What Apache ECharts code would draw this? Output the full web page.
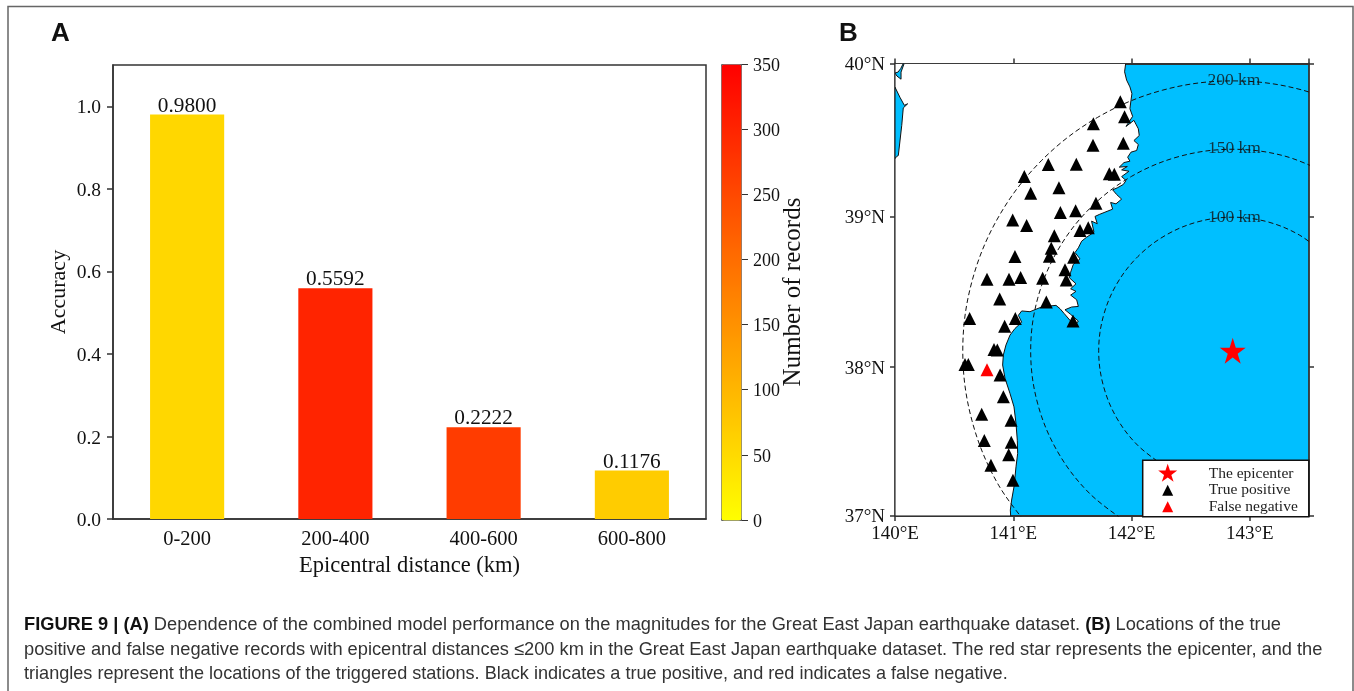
<!DOCTYPE html>
<html>
<head>
<meta charset="utf-8">
<style>html,body{margin:0;padding:0;background:#fff}#c{width:1354px;height:691px}</style>
<script src="https://cdn.jsdelivr.net/npm/echarts@6/dist/echarts.min.js"></script>
</head>
<body>
<div id="c"></div>
<script>
// ---------- Panel A data ----------
var distanceBins = ['0-200', '200-400', '400-600', '600-800'];
var accuracy = [0.9800, 0.5592, 0.2222, 0.1176];
var recordCounts = [55, 300, 268, 70];
var accuracyTicks = [0, 0.2, 0.4, 0.6, 0.8, 1.0];

// ---------- Panel B data (lon, lat) ----------
var epicenter = [[142.855, 38.11]];
var falseNegatives = [[140.778, 37.984]];
var truePositives = [
  [141.905,39.752],[141.941,39.654],[141.677,39.608],[141.674,39.468],[141.930,39.481],
  [141.296,39.341],[141.533,39.343],[141.812,39.280],[141.854,39.278],[141.093,39.262],
  [141.386,39.188],[141.147,39.153],[141.699,39.087],[141.398,39.026],[141.527,39.037],
  [140.995,38.976],[141.113,38.941],[141.634,38.925],[141.564,38.907],[141.347,38.872],
  [141.321,38.791],[141.305,38.738],[141.510,38.731],[141.014,38.736],[141.437,38.648],
  [141.448,38.581],[140.778,38.586],[140.964,38.586],[141.062,38.597],[141.248,38.592],
  [140.885,38.454],[141.279,38.434],[140.631,38.324],[141.017,38.324],[140.927,38.273],
  [141.505,38.308],[140.837,38.119],[140.865,38.115],[140.592,38.018],[140.620,38.018],
  [140.888,37.948],[140.916,37.803],[140.733,37.686],[140.981,37.646],[140.755,37.509],
  [140.983,37.498],[140.961,37.413],[140.811,37.343],[140.997,37.242]
];
var landOutline = [
  [140,40],[141.950,40],[141.941,39.946],[141.958,39.892],[141.986,39.848],[142.003,39.804],
  [141.995,39.761],[141.986,39.706],[142.009,39.656],[141.953,39.590],[142.020,39.630],
  [142.057,39.575],[142.065,39.531],[142.020,39.498],[142.057,39.472],[142.043,39.433],
  [141.995,39.422],[141.967,39.389],[141.986,39.363],[141.936,39.354],[141.896,39.324],
  [141.964,39.328],[141.916,39.306],[141.978,39.297],[141.916,39.262],[141.953,39.236],
  [141.930,39.210],[141.879,39.188],[141.840,39.175],[141.874,39.144],[141.916,39.114],
  [141.868,39.083],[141.823,39.092],[141.840,39.048],[141.775,39.028],[141.727,39.013],
  [141.691,39.000],[141.710,38.952],[141.662,38.969],[141.682,38.896],[141.620,38.863],
  [141.578,38.837],[141.550,38.793],[141.522,38.762],[141.564,38.720],[141.507,38.683],
  [141.485,38.632],[141.474,38.595],[141.530,38.555],[141.485,38.522],[141.530,38.505],
  [141.485,38.480],[141.536,38.449],[141.550,38.405],[141.493,38.401],[141.437,38.383],
  [141.485,38.352],[141.550,38.308],[141.522,38.278],[141.479,38.313],[141.431,38.357],
  [141.395,38.390],[141.361,38.412],[141.310,38.408],[141.226,38.397],[141.141,38.370],
  [141.071,38.375],[141.043,38.346],[141.071,38.300],[141.014,38.258],[140.972,38.214],
  [140.938,38.148],[140.916,38.082],[140.910,38.015],[140.930,37.926],[140.972,37.825],
  [141.006,37.735],[141.023,37.623],[141.034,37.511],[141.037,37.422],[141.023,37.332],
  [141.006,37.197],[140.986,37.108],[140.975,37.040],[140.978,37],[140,37]
];
var westPocket = [
  [140.070,40],[140.048,39.967],[140.025,39.944],[140,39.938],[140.017,39.918],
  [140.051,39.898],[140.051,39.944],[140.076,39.997]
];
var westBay = [
  [140,39.846],[140.042,39.780],[140.079,39.728],[140.107,39.738],[140.070,39.711],
  [140.057,39.597],[140.028,39.400],[140.013,39.393],[140,39.380]
];
var arc100 = [
  [143.656,38.736],[143.422,38.876],[143.148,38.965],[142.855,38.995],[142.562,38.965],
  [142.288,38.876],[142.054,38.736],[141.874,38.553],[141.761,38.339],[141.722,38.110],
  [141.761,37.878],[141.874,37.661],[142.054,37.475],[142.288,37.332]
];
var arc150 = [
  [143.709,39.264],[143.297,39.396],[142.855,39.441],[142.413,39.396],[142.001,39.264],
  [141.647,39.053],[141.376,38.777],[141.205,38.455],[141.147,38.110],[141.205,37.760],
  [141.376,37.432],[141.647,37.151],[142.001,36.935]
];
var arc200 = [
  [143.996,39.650],[143.446,39.827],[142.855,39.887],[142.264,39.827],[141.714,39.650],
  [141.241,39.369],[140.879,39.002],[140.651,38.572],[140.573,38.110],[140.651,37.642],
  [140.879,37.204],[141.241,36.826]
];
var rangeLabelNames = ['200 km', '150 km', '100 km'];
var rangeLabelLon = [142.865, 142.87, 142.87];
var rangeLabelLat = [39.89, 39.445, 38.995];
var lonTicks = [140, 141, 142, 143];
var latTicks = [37, 38, 39, 40];

var captionLines = [
  '{b|FIGURE 9 | (A)} Dependence of the combined model performance on the magnitudes for the Great East Japan earthquake dataset. {b|(B)} Locations of the true',
  'positive and false negative records with epicentral distances \u2264200 km in the Great East Japan earthquake dataset. The red star represents the epicenter, and the',
  'triangles represent the locations of the triggered stations. Black indicates a true positive, and red indicates a false negative.'
];

// ---------- helpers ----------
var SERIF = '"Liberation Serif","Times New Roman",serif';
var SANS = '"Liberation Sans",Arial,sans-serif';
var AX = '#333';
function merc(lat) { return Math.log(Math.tan(Math.PI / 4 + lat * Math.PI / 360)); }
function proj(p) { return [p[0], merc(p[1])]; }
function ringSeries(ring, fill) {
  return {
    type: 'custom', xAxisIndex: 1, yAxisIndex: 1, coordinateSystem: 'cartesian2d', clip: true,
    silent: true, z: 2, data: [[ring[0][0], merc(ring[0][1])]],
    encode: { x: 0, y: 1 },
    renderItem: function (params, api) {
      return {
        type: 'polygon',
        shape: { points: ring.map(function (p) { return api.coord(proj(p)); }) },
        style: { fill: fill, stroke: '#111', lineWidth: 1 }
      };
    }
  };
}
function arcSeries(arc) {
  return {
    type: 'line', xAxisIndex: 1, yAxisIndex: 1, data: arc.map(proj), smooth: 0.35, showSymbol: false,
    silent: true, clip: true, z: 3, lineStyle: { color: '#111', width: 1, type: [5, 3] }
  };
}
var STAR_SHAPE = 'M19 0L21.25 6.91L28.51 6.91L22.63 11.18L24.88 18.09L19 13.82L13.12 18.09L15.37 11.18L9.49 6.91L16.75 6.91Z';
var STAR = 'path://M0 0M55 20' + STAR_SHAPE;
var TRI = 'path://M0 0M55 20M19 4.5L24.5 15.5L13.5 15.5Z';

var mapY = { min: merc(37), max: merc(40) };
var latValues = latTicks.map(merc);

var option = {
  animation: false,
  backgroundColor: '#fff',
  grid: [
    { left: 113, top: 65, width: 593, height: 454, show: true, borderColor: AX, borderWidth: 1.5, backgroundColor: '#fff' },
    { left: 895, top: 63.5, width: 414, height: 452.5, show: true, borderWidth: 0, backgroundColor: '#00BFFF' },
    { left: 721, top: 64, width: 20, height: 456, show: false }
  ],
  xAxis: [
    { type: 'category', gridIndex: 0, data: distanceBins, name: 'Epicentral distance (km)', nameLocation: 'middle', nameGap: 36, nameMoveOverlap: false,
      nameTextStyle: { fontFamily: SERIF, fontSize: 22.5, color: '#111' },
      axisTick: { alignWithLabel: true, length: 6, lineStyle: { color: AX, width: 1.5 } },
      axisLine: { lineStyle: { color: AX, width: 1.5 } },
      axisLabel: { fontFamily: SERIF, fontSize: 20.5, color: '#111', margin: 10 } },
    { type: 'value', gridIndex: 1, position: 'bottom', min: 140, max: 143.5, interval: 1, splitLine: { show: false },
      axisTick: { length: 5, lineStyle: { color: AX, width: 1.5 } },
      axisLine: { lineStyle: { color: AX, width: 1.8 }, onZero: false },
      axisLabel: { fontFamily: SERIF, fontSize: 19, color: '#111', margin: 9, showMaxLabel: false, formatter: function (v) { return v + '\u00B0E'; } } },
    { type: 'value', gridIndex: 1, position: 'top', min: 140, max: 143.5, interval: 1, splitLine: { show: false },
      axisTick: { length: 5, lineStyle: { color: AX, width: 1.5 } },
      axisLine: { lineStyle: { color: AX, width: 1.8 }, onZero: false }, axisLabel: { show: false } },
    { type: 'value', gridIndex: 2, min: 0, max: 1, show: false }
  ],
  yAxis: [
    { type: 'value', gridIndex: 0, min: 0, max: 1.1, splitLine: { show: false },
      name: 'Accuracy', nameLocation: 'middle', nameGap: 43, nameMoveOverlap: false,
      nameTextStyle: { fontFamily: SERIF, fontSize: 22, color: '#111' },
      axisLine: { show: true, lineStyle: { color: AX, width: 1.5 } },
      axisTick: { show: true, length: 6, customValues: accuracyTicks, lineStyle: { color: AX, width: 1.5 } },
      axisLabel: { fontFamily: SERIF, fontSize: 19.5, color: '#111', margin: 12, verticalAlign: 'top', lineHeight: 4, customValues: accuracyTicks, formatter: function (v) { return v.toFixed(1); } } },
    { type: 'value', gridIndex: 1, position: 'left', min: mapY.min, max: mapY.max, splitLine: { show: false },
      axisLine: { show: true, lineStyle: { color: AX, width: 1.8 }, onZero: false },
      axisTick: { show: true, length: 5, customValues: latValues, lineStyle: { color: AX, width: 1.5 } },
      axisLabel: { fontFamily: SERIF, fontSize: 19, color: '#111', margin: 10, verticalAlign: 'top', lineHeight: 3, customValues: latValues,
        formatter: function (v) { var i = latValues.findIndex(function (m) { return Math.abs(m - v) < 1e-6; }); return latTicks[i] + '\u00B0N'; } } },
    { type: 'value', gridIndex: 1, position: 'right', min: mapY.min, max: mapY.max, splitLine: { show: false },
      axisLine: { show: true, lineStyle: { color: AX, width: 1.8 }, onZero: false },
      axisTick: { show: true, length: 5, customValues: latValues, lineStyle: { color: AX, width: 1.5 } },
      axisLabel: { show: false } },
    { type: 'value', gridIndex: 2, position: 'right', min: 0, max: 350, interval: 50, splitLine: { show: false },
      name: 'Number of records', nameLocation: 'middle', nameGap: 40, nameRotate: 90, nameMoveOverlap: false,
      nameTextStyle: { fontFamily: SERIF, fontSize: 25, color: '#111' },
      axisLine: { show: false, onZero: false },
      axisTick: { show: true, length: 7, lineStyle: { color: AX, width: 1 } },
      axisLabel: { fontFamily: SERIF, fontSize: 18, color: '#111', margin: 12, verticalAlign: 'top', lineHeight: 4 } }
  ],
  visualMap: {
    type: 'continuous', seriesIndex: 0, dimension: 2, min: 0, max: 350, calculable: false, orient: 'vertical',
    left: 721, top: 64, itemWidth: 20, itemHeight: 456, padding: 0, borderWidth: 1, borderColor: '#666',
    inRange: { color: ['#ffff00', '#ff0000'] }, hoverLink: false
  },
  legend: {
    show: true, orient: 'vertical', left: 1142.7, top: 460.3, padding: [3.4, 11, 0, 6], itemGap: -3.5,
    itemWidth: 55, itemHeight: 20, selectedMode: false, backgroundColor: '#fff', borderColor: '#111', borderWidth: 1.5,
    borderRadius: 0, z: 10,
    textStyle: { fontFamily: SERIF, fontSize: 15.5, color: '#222' },
    data: [
      { name: 'The epicenter', icon: STAR },
      { name: 'True positive', icon: TRI },
      { name: 'False negative', icon: TRI }
    ]
  },
  series: [
    { type: 'bar', xAxisIndex: 0, yAxisIndex: 0, barWidth: '50%',
      data: distanceBins.map(function (c, i) { return [c, accuracy[i], recordCounts[i]]; }),
      encode: { x: 0, y: 1 },
      label: { show: true, position: 'top', distance: -2, fontFamily: SERIF, fontSize: 21.3, color: '#111',
        formatter: function (p) { return p.value[1].toFixed(4); } } },
    ringSeries(landOutline, '#fff'),
    ringSeries(westPocket, '#00BFFF'),
    ringSeries(westBay, '#00BFFF'),
    arcSeries(arc100),
    arcSeries(arc150),
    arcSeries(arc200),
    { type: 'scatter', xAxisIndex: 1, yAxisIndex: 1, symbolSize: 0, silent: true, z: 4,
      data: rangeLabelNames.map(function (n, i) { return { name: n, value: [rangeLabelLon[i], merc(rangeLabelLat[i])] }; }),
      label: { show: true, position: 'inside', fontFamily: SERIF, fontSize: 17.5, color: '#111', formatter: '{b}' } },
    { name: 'True positive', type: 'scatter', xAxisIndex: 1, yAxisIndex: 1, symbol: 'triangle', symbolSize: 13, z: 5,
      itemStyle: { color: '#000', opacity: 1 }, data: truePositives.map(proj) },
    { name: 'False negative', type: 'scatter', xAxisIndex: 1, yAxisIndex: 1, symbol: 'triangle', symbolSize: 13, z: 5,
      itemStyle: { color: '#ff0000', opacity: 1 }, data: falseNegatives.map(proj) },
    { name: 'The epicenter', type: 'scatter', xAxisIndex: 1, yAxisIndex: 1, symbol: 'path://' + STAR_SHAPE, symbolSize: 26, z: 6,
      itemStyle: { color: '#ff0000', opacity: 1 }, data: epicenter.map(proj) },
    { type: 'scatter', xAxisIndex: 3, yAxisIndex: 3, data: [], silent: true }
  ],
  graphic: [
    { type: 'polyline', silent: true, z: -1, shape: { points: [[8, 691], [8, 6.5], [1353, 6.5], [1353, 691]] }, style: { fill: 'none', stroke: '#666', lineWidth: 1.5 } },
    { type: 'text', silent: true, left: 51, top: 21, style: { text: 'A', fontFamily: SANS, fontWeight: 'bold', fontSize: 26, fill: '#111' } },
    { type: 'text', silent: true, left: 839, top: 21, style: { text: 'B', fontFamily: SANS, fontWeight: 'bold', fontSize: 26, fill: '#111' } },
    { type: 'text', silent: true, left: 24, top: 615, style: { text: captionLines[0], fontFamily: SANS, fontSize: 18.25, fill: '#333', lineHeight: 20, rich: { b: { fontFamily: SANS, fontSize: 18.25, fontWeight: 'bold', fill: '#111' } } } },
    { type: 'text', silent: true, left: 24, top: 640, style: { text: captionLines[1], fontFamily: SANS, fontSize: 18.25, fill: '#333', lineHeight: 20 } },
    { type: 'text', silent: true, left: 24, top: 664, style: { text: captionLines[2], fontFamily: SANS, fontSize: 18.1, fill: '#333', lineHeight: 20 } }
  ]
};
echarts.init(document.getElementById('c'), null, { renderer: 'canvas' }).setOption(option);
</script>
</body>
</html>
